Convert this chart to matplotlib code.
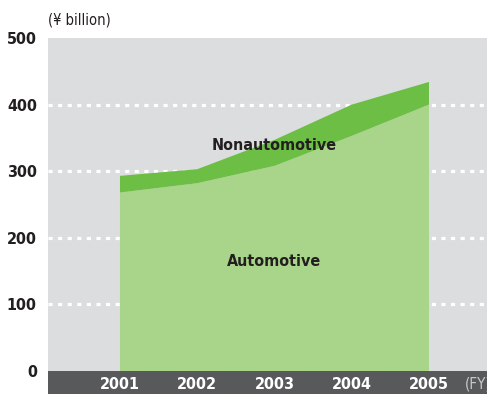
import matplotlib
matplotlib.use("Agg")
import matplotlib.pyplot as plt
from matplotlib.patches import Rectangle

years = [2001, 2002, 2003, 2004, 2005]
automotive = [268, 282, 308, 353, 400]
nonautomotive = [25, 21, 39, 47, 34]
y_ticks = [0, 100, 200, 300, 400, 500]

W, H = 487, 394
fig = plt.figure(figsize=(W / 100, H / 100), dpi=100)
fig.patch.set_facecolor("white")

# plot area in pixel terms
left, right, top, bottom = 48, 487, 38, 371
ax = fig.add_axes([left / W, 1 - bottom / H, (right - left) / W, (bottom - top) / H])
ax.set_facecolor("#dcdddf")

cond = dict(family="DejaVu Sans", stretch="condensed")

ax.stackplot(years, automotive, nonautomotive,
             colors=["#a9d58a", "#6dbe45"], linewidth=0, zorder=3)

for v in y_ticks[1:-1]:
    ax.axhline(v, color="white", lw=2.3, ls=(0, (1.3, 1.7)), zorder=2)

ax.set_xlim(2000.068, 2005.751)
ax.set_ylim(0, 500)
for s in ax.spines.values():
    s.set_visible(False)

ax.set_yticks(y_ticks)
ax.set_yticklabels([str(v) for v in y_ticks], fontsize=11.5, fontweight="bold",
                   color="#231f20", **cond)
ax.set_xticks(years)
ax.set_xticklabels([str(y) for y in years], fontsize=11.5, fontweight="bold",
                   color="white", **cond)
ax.tick_params(axis="y", length=0, pad=8)
ax.tick_params(axis="x", length=0, pad=4)

# dark band under the x axis
fig.patches.append(Rectangle((left / W, 0), (right - left) / W, (H - bottom) / H,
                             transform=fig.transFigure, facecolor="#58595b",
                             edgecolor="none", zorder=-1))

fig.text(465 / W, 1 - 384 / H, "(FY)", fontsize=11, color="#c8c8c8",
         ha="left", va="center", **cond)
fig.text(left / W, 1 - 20 / H, "(¥ billion)", fontsize=10.5, color="#231f20",
         ha="left", va="center", **cond)

ax.text(2003, 338, "Nonautomotive", fontsize=11.5, fontweight="bold",
        color="#231f20", ha="center", va="center", zorder=4, **cond)
ax.text(2003, 165, "Automotive", fontsize=11.5, fontweight="bold",
        color="#231f20", ha="center", va="center", zorder=4, **cond)

fig.savefig("out.png", dpi=100)
